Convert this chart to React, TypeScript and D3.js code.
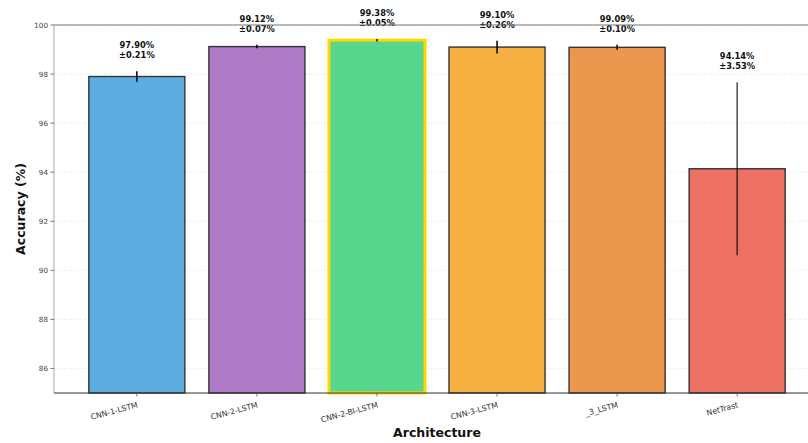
import React, { useEffect } from 'react';
import * as d3 from 'd3';

const models = ['CNN-1-LSTM', 'CNN-2-LSTM', 'CNN-2-BI-LSTM', 'CNN-3-LSTM', '_3_LSTM', 'NetTrast'];
const accuracy = [97.9, 99.12, 99.38, 99.1, 99.09, 94.14];
const stdDev = [0.21, 0.07, 0.05, 0.26, 0.1, 3.53];
const barColors = ['#5DADE2', '#AF7AC5', '#58D68D', '#F5B041', '#EB984E', '#EC7063'];
const yTicks = [86, 88, 90, 92, 94, 96, 98, 100];

const width = 808;
const height = 443;
const margin = { top: 25, left: 54, bottom: 50 };
const plotRight = 820;

export default function App() {
  useEffect(() => {
    document.body.style.margin = '0';
  }, []);

  const x = d3.scaleBand<string>()
    .domain(models)
    .range([margin.left, plotRight])
    .paddingInner(0.2)
    .paddingOuter(0.29);

  const y = d3.scaleLinear()
    .domain([85, 100])
    .range([height - margin.bottom, margin.top]);

  const best = d3.maxIndex(accuracy);
  const font = 'DejaVu Sans, sans-serif';

  return (
    <svg width={width} height={height} style={{ display: 'block', background: '#fff', fontFamily: font }}>
      {/* grid */}
      {yTicks.map((t) => (
        <line key={'g' + t} x1={margin.left} x2={plotRight} y1={y(t)} y2={y(t)}
          stroke="#ddd" strokeOpacity={0.6} strokeDasharray="3,2" strokeWidth={0.8} />
      ))}

      {/* bars */}
      {models.map((m, i) => (
        <rect key={m} x={x(m)} y={y(accuracy[i])} width={x.bandwidth()}
          height={y(85) - y(accuracy[i])} fill={barColors[i]}
          stroke={i === best ? '#FFD700' : '#333'} strokeWidth={i === best ? 3 : 1.4} />
      ))}

      {/* error bars */}
      {models.map((m, i) => {
        const cx = (x(m) as number) + x.bandwidth() / 2;
        return (
          <line key={'e' + m} x1={cx} x2={cx} y1={y(accuracy[i] - stdDev[i])} y2={y(accuracy[i] + stdDev[i])}
            stroke="#000" strokeOpacity={i === models.length - 1 ? 0.7 : 1} strokeWidth={1.5} />
        );
      })}

      {/* value labels */}
      {models.map((m, i) => {
        const cx = (x(m) as number) + x.bandwidth() / 2;
        const yb = y(accuracy[i] + stdDev[i]) - 13;
        return (
          <text key={'l' + m} x={cx} textAnchor="middle" fontSize={8.3} fontWeight="bold" fill="#111">
            <tspan x={cx} y={yb - 10}>{accuracy[i].toFixed(2)}%</tspan>
            <tspan x={cx} y={yb}>±{stdDev[i].toFixed(2)}%</tspan>
          </text>
        );
      })}

      {/* spines */}
      <line x1={margin.left} x2={plotRight} y1={margin.top} y2={margin.top} stroke="#777" strokeWidth={1} />
      <line x1={margin.left} x2={margin.left} y1={margin.top} y2={y(85)} stroke="#aaa" strokeWidth={1} />
      <line x1={margin.left} x2={plotRight} y1={y(85)} y2={y(85)} stroke="#333" strokeWidth={1} />

      {/* y ticks */}
      {yTicks.map((t) => (
        <g key={'t' + t}>
          <line x1={margin.left - 3.5} x2={margin.left} y1={y(t)} y2={y(t)} stroke="#555" strokeWidth={0.8} />
          <text x={margin.left - 6} y={y(t)} dy="0.35em" textAnchor="end" fontSize={7.2} fill="#444">{t}</text>
        </g>
      ))}

      {/* x ticks */}
      {models.map((m) => {
        const cx = (x(m) as number) + x.bandwidth() / 2;
        const ty = y(85);
        return (
          <g key={'x' + m}>
            <line x1={cx} x2={cx} y1={ty} y2={ty + 3.5} stroke="#555" strokeWidth={0.8} />
            <text transform={`translate(${cx},${ty + 9}) rotate(-15)`} textAnchor="end" dy="0.7em"
              fontSize={7.8} fill="#333">{m}</text>
          </g>
        );
      })}

      {/* axis labels */}
      <text x={(margin.left + plotRight) / 2} y={437} textAnchor="middle" fontSize={12.5} fontWeight="bold" fill="#111">
        Architecture
      </text>
      <text transform={`translate(25,${(margin.top + y(85)) / 2}) rotate(-90)`} textAnchor="middle"
        fontSize={12.5} fontWeight="bold" fill="#111">
        Accuracy (%)
      </text>
    </svg>
  );
}
